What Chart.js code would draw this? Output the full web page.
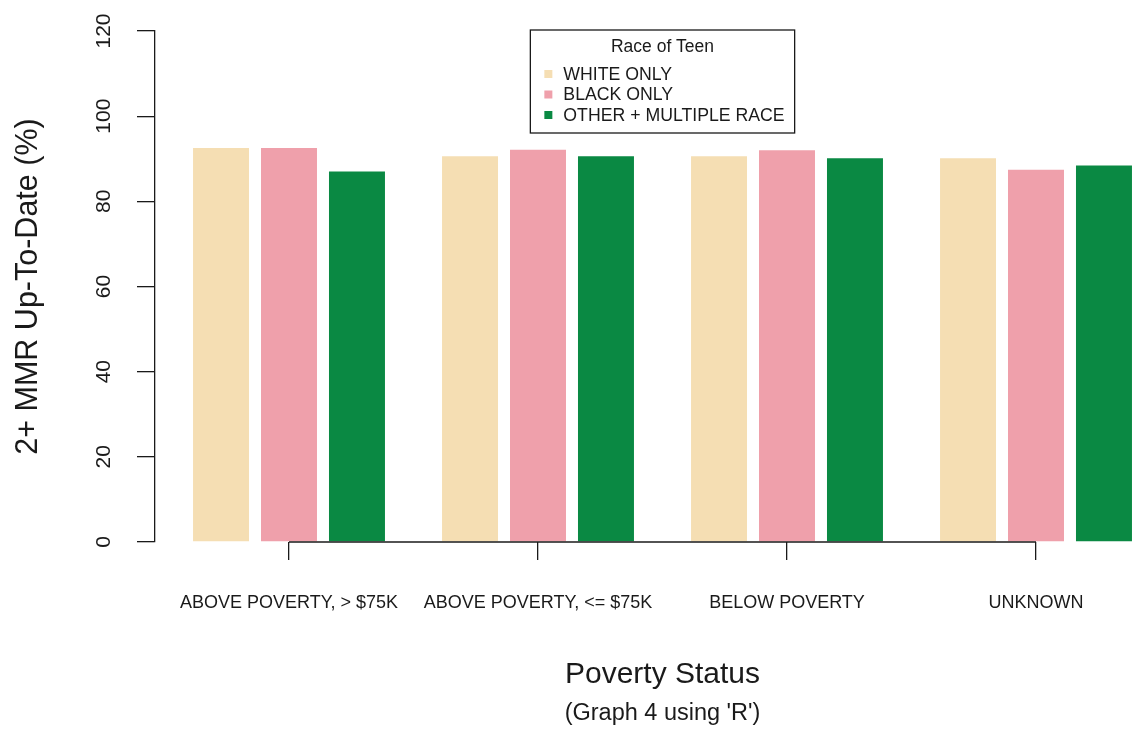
<!DOCTYPE html>
<html>
<head>
<meta charset="utf-8">
<script src="https://cdn.jsdelivr.net/npm/chart.js@4"></script>
<style>
  html, body { margin: 0; padding: 0; background: #fff; overflow: hidden; }
</style>
</head>
<body>
<canvas id="mmrChart" width="1172" height="730"></canvas>
<script>
const categories = ['ABOVE POVERTY, > $75K', 'ABOVE POVERTY, <= $75K', 'BELOW POVERTY', 'UNKNOWN'];
const raceLabels = ['WHITE ONLY', 'BLACK ONLY', 'OTHER + MULTIPLE RACE'];
const whiteOnly = [92.5, 90.6, 90.6, 90.1];
const blackOnly = [92.5, 92.1, 92.0, 87.4];
const otherRace = [87.0, 90.6, 90.1, 88.4];
const yTicks = [0, 20, 40, 60, 80, 100, 120];
const raceColors = ['#F5DEB3', '#EFA0AB', '#0A8943'];

const FONT = "'Liberation Sans', Arial, sans-serif";
const INK = '#1a1a1a';

// x range so that groups sit where R put them (plot region runs past the picture edge)
const xMin = 1 - 134 / 249;
const xMax = xMin + 1015 / 249;

function toPoints(values) {
    return values.map((v, i) => ({ x: i + 1, y: v }));
}

// R-style x axis: line only from first to last tick
const partialAxis = {
    id: 'partialAxis',
    afterDraw(chart) {
        const { ctx, chartArea } = chart;
        const xs = chart.scales.x;
        ctx.save();
        ctx.strokeStyle = INK;
        ctx.lineWidth = 1.3;
        ctx.beginPath();
        ctx.moveTo(xs.getPixelForValue(1), chartArea.bottom);
        ctx.lineTo(xs.getPixelForValue(categories.length), chartArea.bottom);
        ctx.stroke();
        ctx.restore();
    }
};

// boxed legend at the top of the plot, like legend("top", ...)
const boxLegend = {
    id: 'boxLegend',
    afterDraw(chart) {
        const { ctx, chartArea } = chart;
        const sets = chart.data.datasets;
        ctx.save();
        ctx.font = '17.7px ' + FONT;
        let textW = 0;
        sets.forEach(ds => { textW = Math.max(textW, ctx.measureText(ds.label).width); });
        const w = textW + 43;
        const cx = (chartArea.left + chartArea.right) / 2;
        const left = cx - w / 2;
        const top = chartArea.top - 1;
        const h = 103;

        ctx.fillStyle = '#fff';
        ctx.fillRect(left, top, w, h);
        ctx.strokeStyle = INK;
        ctx.lineWidth = 1.3;
        ctx.strokeRect(left, top, w, h);

        ctx.fillStyle = INK;
        ctx.textBaseline = 'middle';
        ctx.textAlign = 'center';
        ctx.font = '17.5px ' + FONT;
        ctx.fillText('Race of Teen', left + w / 2, top + 17);

        ctx.textAlign = 'left';
        ctx.font = '17.7px ' + FONT;
        sets.forEach((ds, i) => {
            const y = top + 44 + i * 20.5;
            ctx.fillStyle = ds.backgroundColor;
            ctx.fillRect(left + 14, y - 4, 8, 8);
            ctx.fillStyle = INK;
            ctx.fillText(ds.label, left + 33, y + 1);
        });
        ctx.restore();
    }
};

const ctx = document.getElementById('mmrChart').getContext('2d');
const chart = new Chart(ctx, {
    type: 'bar',
    data: {
        datasets: [
            { label: raceLabels[0], data: toPoints(whiteOnly), backgroundColor: raceColors[0] },
            { label: raceLabels[1], data: toPoints(blackOnly), backgroundColor: raceColors[1] },
            { label: raceLabels[2], data: toPoints(otherRace), backgroundColor: raceColors[2] }
        ]
    },
    options: {
        responsive: false,
        animation: false,
        devicePixelRatio: 1,
        layout: { padding: { top: 31, right: 2, left: 0, bottom: 0 } },
        datasets: {
            bar: { categoryPercentage: 0.819, barPercentage: 0.8235, borderWidth: 0 }
        },
        plugins: {
            legend: { display: false },
            tooltip: { enabled: false },
            subtitle: {
                display: true,
                position: 'bottom',
                fullSize: false,
                text: "(Graph 4 using 'R')",
                color: INK,
                font: { family: FONT, size: 23.5, weight: 'normal' },
                padding: { top: 0, bottom: 2 }
            }
        },
        scales: {
            x: {
                type: 'linear',
                min: xMin,
                max: xMax,
                offset: false,
                afterBuildTicks(scale) {
                    scale.ticks = categories.map((c, i) => ({ value: i + 1 }));
                },
                afterFit(scale) { scale.height = 157.8; },
                grid: { offset: false, drawOnChartArea: false, color: INK, lineWidth: 1.3, tickLength: 18 },
                border: { display: false },
                ticks: {
                    autoSkip: false,
                    maxRotation: 0,
                    color: INK,
                    padding: 32,
                    font: { family: FONT, size: 18 },
                    callback: (v) => categories[v - 1]
                },
                title: {
                    display: true,
                    text: 'Poverty Status',
                    color: INK,
                    font: { family: FONT, size: 30 },
                    padding: { top: 0, bottom: 7 }
                }
            },
            y: {
                min: 0,
                max: 120,
                afterBuildTicks(scale) {
                    scale.ticks = yTicks.map(v => ({ value: v }));
                },
                afterFit(scale) { scale.width = 155; },
                grid: { drawOnChartArea: false, color: INK, lineWidth: 1.3, tickLength: 18 },
                border: { display: true, color: INK, width: 1.3 },
                ticks: {
                    color: INK,
                    minRotation: 90,
                    maxRotation: 90,
                    crossAlign: 'center',
                    padding: 15,
                    font: { family: FONT, size: 21 }
                },
                title: {
                    display: true,
                    text: '2+ MMR Up-To-Date (%)',
                    color: INK,
                    font: { family: FONT, size: 30.5 },
                    padding: { top: 10, bottom: 0 }
                }
            }
        }
    },
    plugins: [partialAxis, boxLegend]
});
</script>
</body>
</html>
